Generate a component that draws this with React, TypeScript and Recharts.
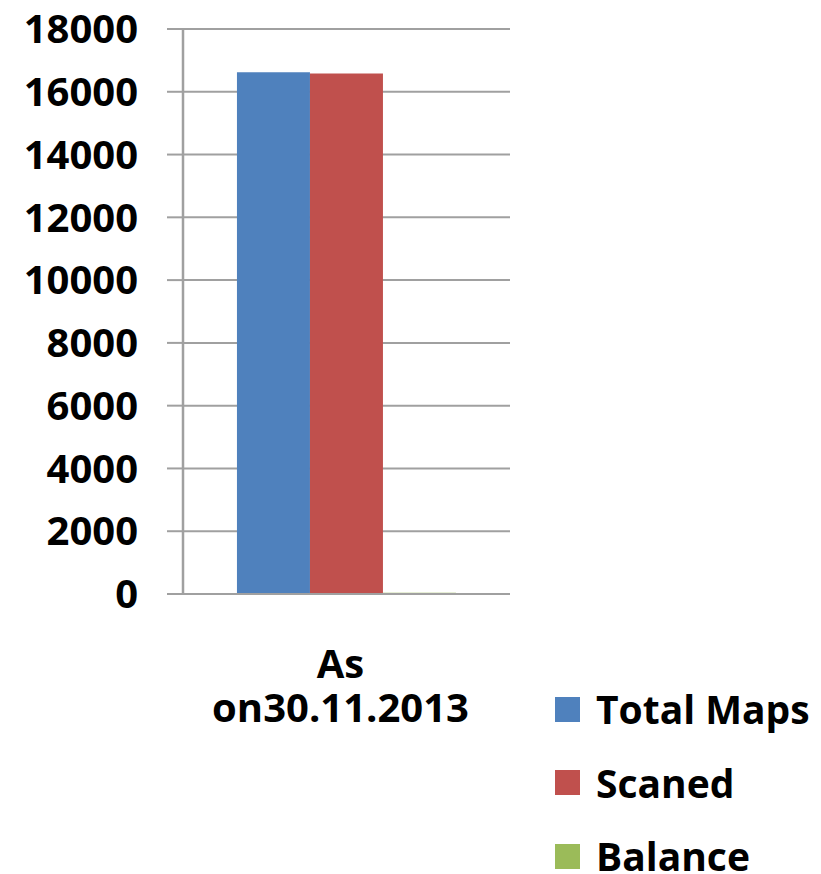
import { BarChart, Bar, XAxis, YAxis, CartesianGrid } from 'recharts';

const categories = ['As on30.11.2013'];
const totalMaps = [16620];
const scaned = [16580];
const balance = [40];
const yTicks = [0, 2000, 4000, 6000, 8000, 10000, 12000, 14000, 16000, 18000];

const seriesNames = ['Total Maps', 'Scaned', 'Balance'];
const seriesKeys = ['total', 'scaned', 'balance'];
const seriesColors = ['#4F81BD', '#C0504D', '#9BBB59'];

const data = categories.map((name, i) => ({
  name,
  total: totalMaps[i],
  scaned: scaned[i],
  balance: balance[i],
}));

const font = '"Open Sans", sans-serif';
const gray = '#a0a0a0';

function CategoryTick({ x, y, payload }: any) {
  const text = String(payload.value);
  const cut = text.indexOf(' ');
  const first = text.slice(0, cut);
  const second = text.slice(cut + 1);
  const cx = x - 6;
  return (
    <text x={cx} y={y} textAnchor="middle" fontFamily={font} fontWeight="bold" fontSize={40} fill="#000">
      <tspan x={cx} dy={84}>{first}</tspan>
      <tspan x={cx} dy={44}>{second}</tspan>
    </text>
  );
}

export default function App() {
  return (
    <div style={{ position: 'absolute', left: 0, top: 0, width: 821, height: 874, background: '#fff', overflow: 'hidden' }}>
      <BarChart
        width={821}
        height={874}
        data={data}
        margin={{ top: 29, right: 311, bottom: 140, left: 0 }}
        barCategoryGap="16.5%"
        barGap={0}
      >
        <CartesianGrid xAxisId="cat" vertical={false} stroke={gray} strokeWidth={2} />
        <XAxis
          xAxisId="edge"
          type="number"
          domain={[0, 1]}
          ticks={[0, 1]}
          tick={false}
          axisLine={false}
          tickSize={16}
          tickLine={{ stroke: gray, strokeWidth: 2 }}
          height={0}
        />
        <XAxis
          xAxisId="cat"
          dataKey="name"
          height={140}
          tickLine={false}
          tickSize={0}
          tickMargin={0}
          axisLine={{ stroke: gray, strokeWidth: 2 }}
          tick={<CategoryTick />}
          interval={0}
        />
        <YAxis
          width={183}
          domain={[0, 18000]}
          ticks={yTicks}
          interval={0}
          tickSize={16}
          tickMargin={29}
          axisLine={{ stroke: gray, strokeWidth: 2.5 }}
          tickLine={{ stroke: gray, strokeWidth: 2 }}
          tick={{ fontFamily: font, fontWeight: 'bold', fontSize: 40, fill: '#000' }}
        />
        {seriesKeys.map((k, i) => (
          <Bar key={k} xAxisId="cat" dataKey={k} name={seriesNames[i]} fill={seriesColors[i]} isAnimationActive={false} />
        ))}
      </BarChart>
      {seriesNames.map((n, i) => (
        <div
          key={n}
          style={{
            position: 'absolute',
            left: 555,
            top: 687 + i * 73.5,
            height: 44,
            display: 'flex',
            alignItems: 'center',
            whiteSpace: 'nowrap',
          }}
        >
          <div style={{ width: 25, height: 25, background: seriesColors[i], marginRight: 16, flexShrink: 0 }} />
          <span style={{ fontFamily: font, fontWeight: 'bold', fontSize: 39, color: '#000', lineHeight: '44px' }}>{n}</span>
        </div>
      ))}
    </div>
  );
}
